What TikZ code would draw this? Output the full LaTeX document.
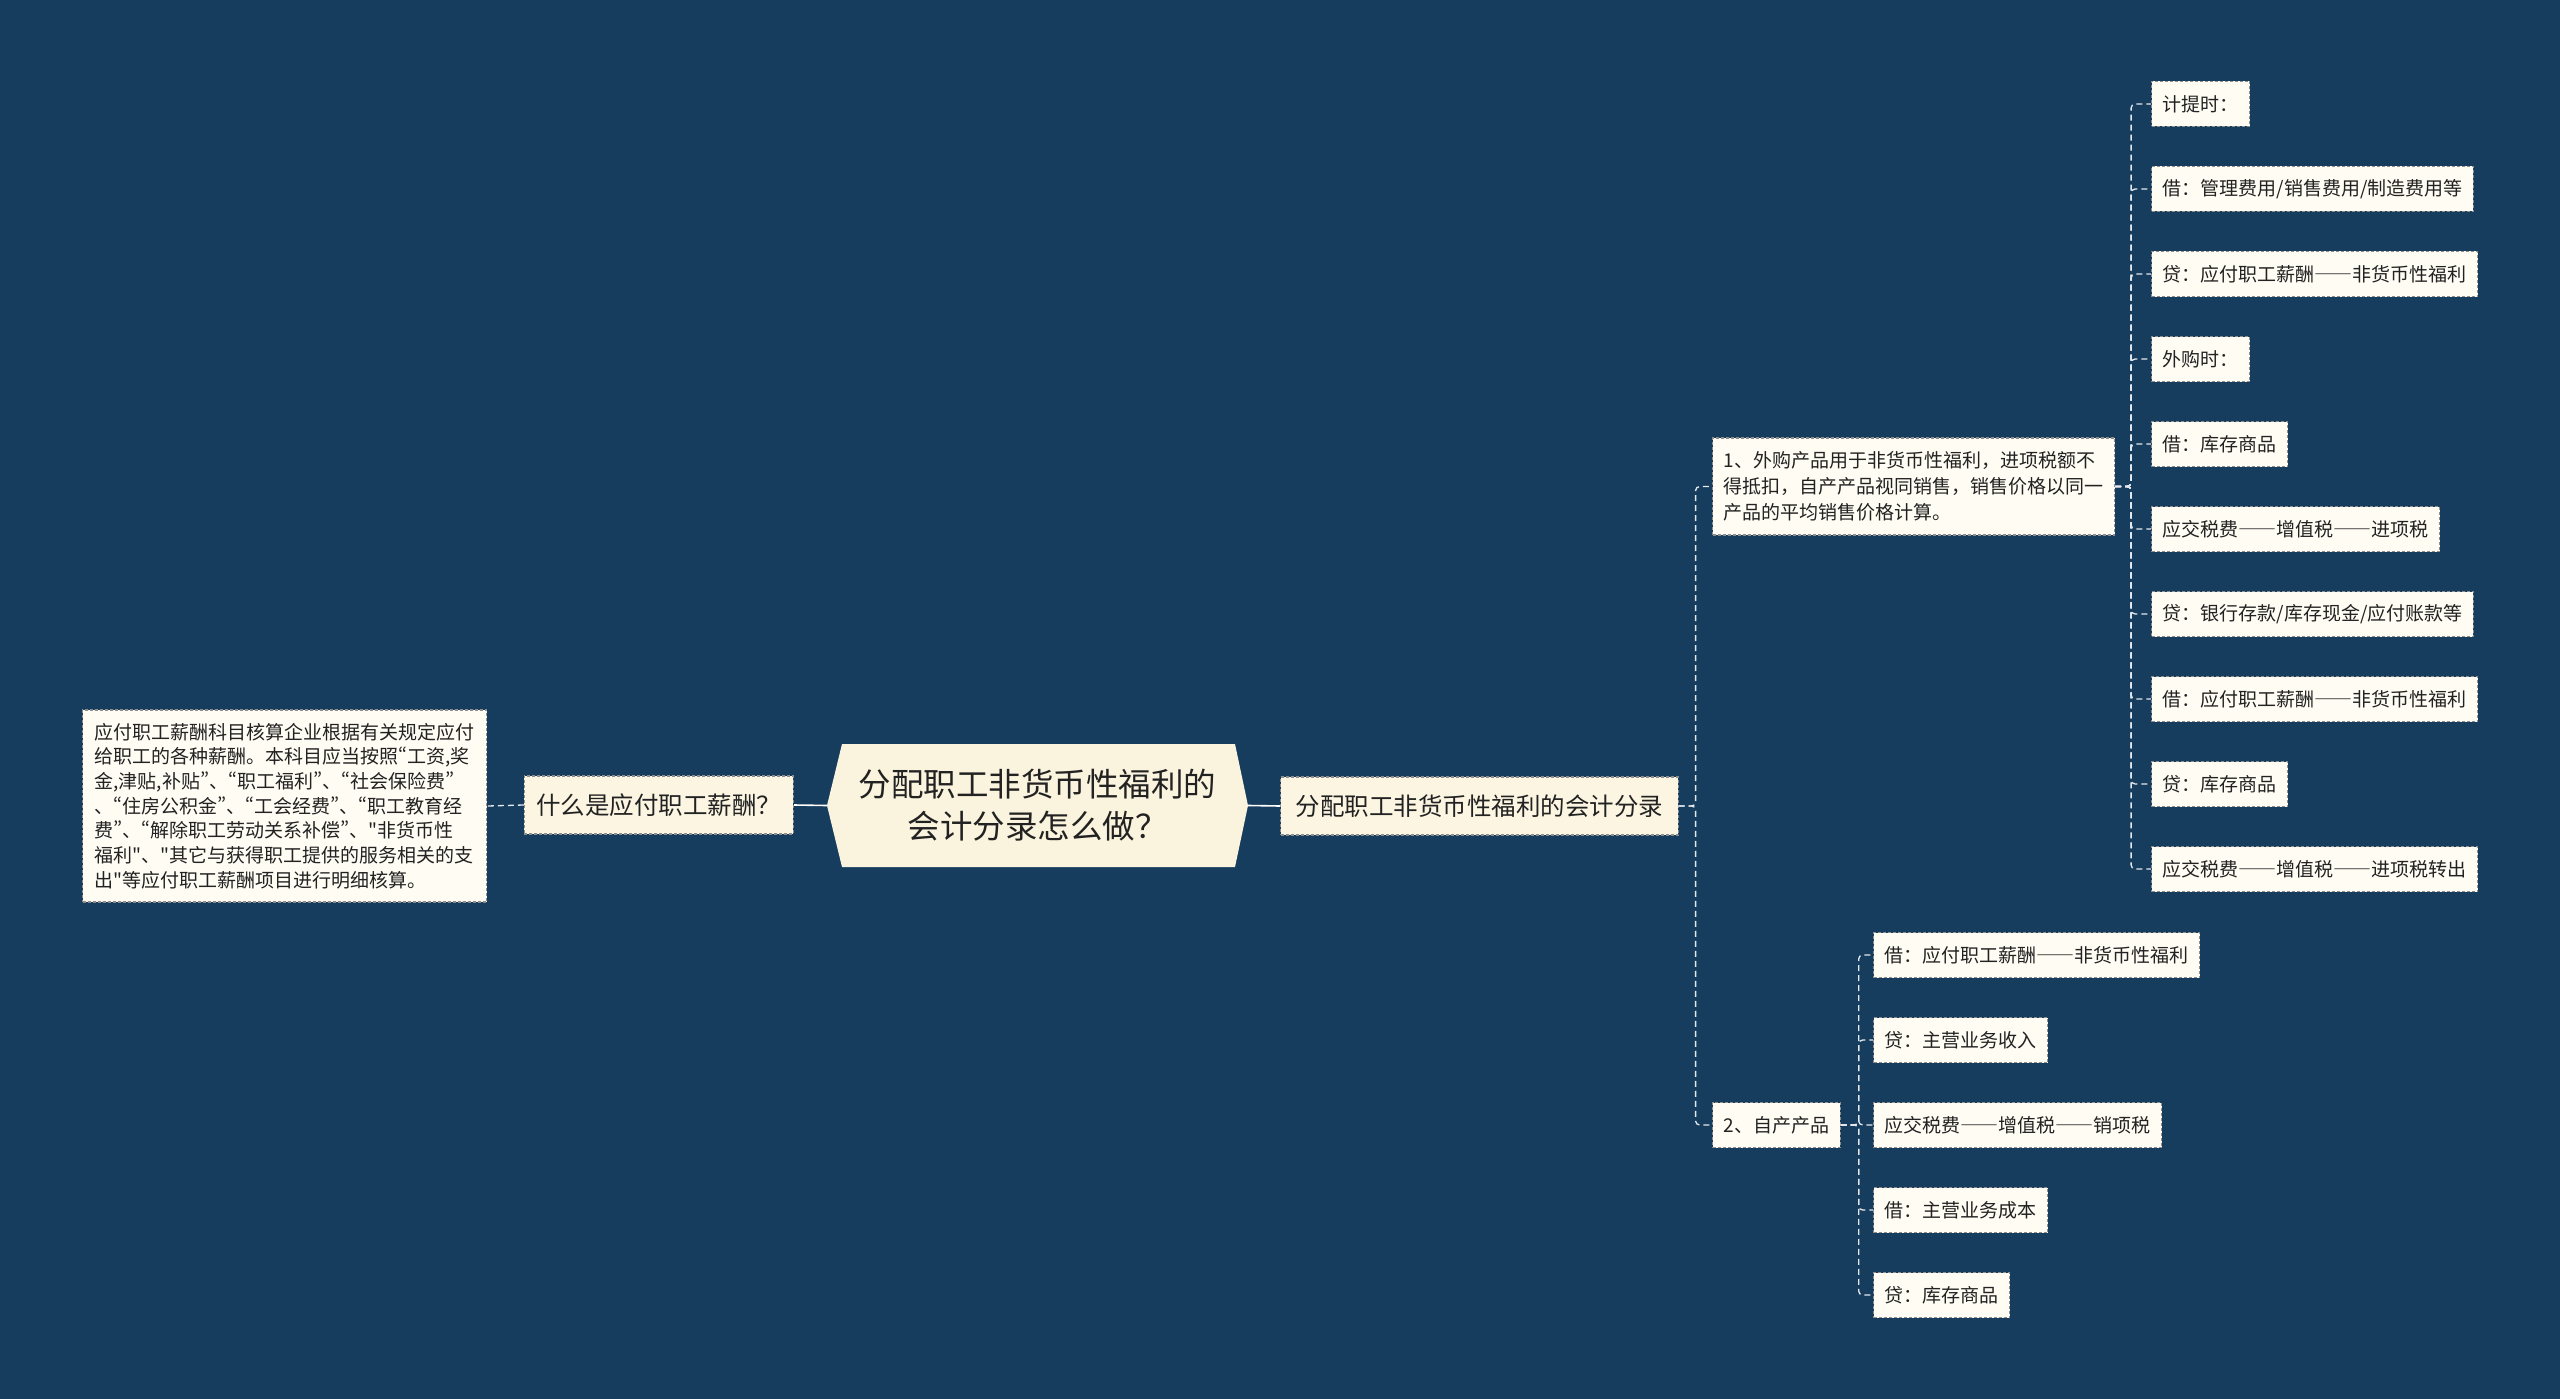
\documentclass[tikz,border=0pt]{standalone}
\usepackage{fontspec}
\setmainfont{Noto Sans CJK SC}[Ligatures=TeXOff]
\newfontfamily\qf{Noto Sans CJK SC}[CharacterWidth=Proportional, Ligatures=TeXOff]
\newfontfamily\fwf{Noto Sans CJK SC}[CharacterWidth=Full, Ligatures=TeXOff]
\newcommand\qo{{\qf “}}
\newcommand\qc{{\qf ”}}
\newcommand\qs{{\qf "}}
\newcommand\dd{{\fwf ——}}
\usetikzlibrary{calc}
\definecolor{bg}{HTML}{173D5E}
\definecolor{rootfill}{HTML}{FAF3DD}
\definecolor{branchfill}{HTML}{FBF5E2}
\definecolor{leaffill}{HTML}{FFFCF3}
\definecolor{bordergray}{HTML}{8E8E8E}
\definecolor{txt}{HTML}{222222}
\definecolor{linec}{HTML}{E4E9EE}
\begin{document}
\begin{tikzpicture}[x=1pt,y=-1pt,
  box/.style={draw=bordergray, line width=1.1pt, dash pattern=on 3pt off 2pt, text=txt},
  leaf/.style={box, fill=leaffill, anchor=west, inner xsep=11pt, inner ysep=0pt,
    minimum height=45pt, font=\fontsize{19}{23}\selectfont},
  branch/.style={box, fill=branchfill, inner ysep=0pt, minimum height=58pt,
    font=\fontsize{24.5}{30}\selectfont},
  conn/.style={draw=linec, line width=1.3pt, dash pattern=on 6pt off 4pt, rounded corners=4pt},
  rootconn/.style={draw=white, line width=1.6pt}]
\fill[bg] (0,0) rectangle (2560,1399);
\useasboundingbox (0,0) rectangle (2560,1399);

% root hexagon
\coordinate (rc) at (1037.5,805.5);
\fill[rootfill] ($(rc)+(-210.5,0)$) -- ($(rc)+(-195.5,-61.5)$) -- ($(rc)+(197.5,-61.5)$)
  -- ($(rc)+(210.5,0)$) -- ($(rc)+(197.5,61.5)$) -- ($(rc)+(-195.5,61.5)$) -- cycle;
\node[minimum width=421pt, minimum height=123pt, inner sep=0pt, align=center, text=txt,
  font=\fontsize{32.5}{42}\selectfont] (root) at (rc) {分配职工非货币性福利的\\会计分录怎么做？};

% left side
\node[branch, anchor=east, inner xsep=12pt] (what) at (794,805) {什么是应付职工薪酬？};
\node[box, fill=leaffill, anchor=west, inner xsep=12pt, inner ysep=0pt, minimum height=192pt,
  text width=380pt, align=left, font=\fontsize{19}{24.7}\selectfont] (def) at (82,806)
  {应付职工薪酬科目核算企业根据有关规定应付\\
   给职工的各种薪酬。本科目应当按照\qo 工资,奖\\
   金,津贴,补贴\qc 、\qo 职工福利\qc 、\qo 社会保险费\qc\\
   、\qo 住房公积金\qc 、\qo 工会经费\qc 、\qo 职工教育经\\
   费\qc 、\qo 解除职工劳动关系补偿\qc 、\qs 非货币性\\
   福利\qs 、\qs 其它与获得职工提供的服务相关的支\\
   出\qs 等应付职工薪酬项目进行明细核算。};

% right main branch
\node[branch, anchor=west, inner xsep=15pt] (main) at (1280,806) {分配职工非货币性福利的会计分录};

\node[box, fill=leaffill, anchor=west, inner xsep=11pt, inner ysep=0pt, minimum height=97pt,
  align=left, font=\fontsize{19}{25.8}\selectfont] (p1) at (1712,486.5)
  {1、外购产品用于非货币性福利，进项税额不\\得抵扣，自产产品视同销售，销售价格以同一\\产品的平均销售价格计算。};
\node[leaf] (p2) at (1712,1125) {2、自产产品};

% children of p1
\node[leaf] (a1) at (2151,104) {计提时：};
\node[leaf] (a2) at (2151,189) {借：管理费用/销售费用/制造费用等};
\node[leaf] (a3) at (2151,274) {贷：应付职工薪酬\dd 非货币性福利};
\node[leaf] (a4) at (2151,359) {外购时：};
\node[leaf] (a5) at (2151,444) {借：库存商品};
\node[leaf] (a6) at (2151,529) {应交税费\dd 增值税\dd 进项税};
\node[leaf] (a7) at (2151,614) {贷：银行存款/库存现金/应付账款等};
\node[leaf] (a8) at (2151,699) {借：应付职工薪酬\dd 非货币性福利};
\node[leaf] (a9) at (2151,784) {贷：库存商品};
\node[leaf] (a10) at (2151,869) {应交税费\dd 增值税\dd 进项税转出};

% children of p2
\node[leaf] (b1) at (1873,955) {借：应付职工薪酬\dd 非货币性福利};
\node[leaf] (b2) at (1873,1040) {贷：主营业务收入};
\node[leaf] (b3) at (1873,1125) {应交税费\dd 增值税\dd 销项税};
\node[leaf] (b4) at (1873,1210) {借：主营业务成本};
\node[leaf] (b5) at (1873,1295) {贷：库存商品};

% connectors
\draw[rootconn] (root.west) -- (what.east);
\draw[rootconn] (root.east) -- (main.west);
\draw[conn] (what.west) -- (def.east);
\foreach \c in {p1,p2}
  \draw[conn] (main.east) -- ++(17,0) |- (\c.west);
\foreach \c in {a1,a2,a3,a4,a5,a6,a7,a8,a9,a10}
  \draw[conn] (p1.east) -- ++(16,0) |- (\c.west);
\foreach \c in {b1,b2,b3,b4,b5}
  \draw[conn] (p2.east) -- ++(18,0) |- (\c.west);
\end{tikzpicture}
\end{document}
